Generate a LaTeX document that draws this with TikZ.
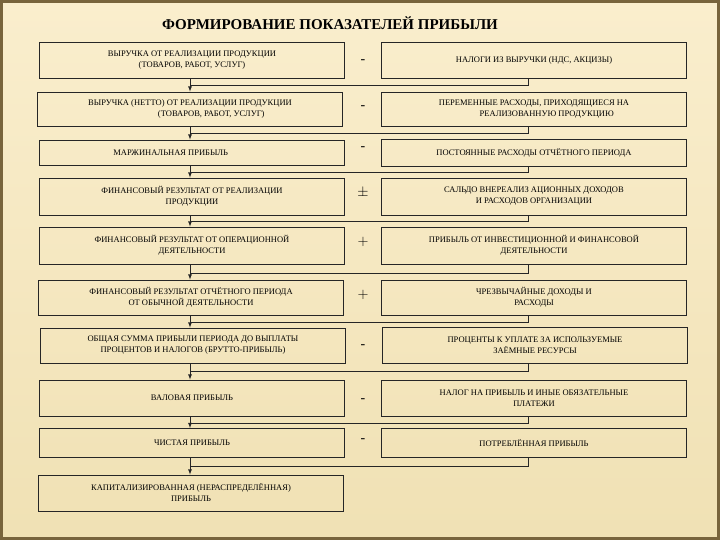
\documentclass[tikz,border=0pt]{standalone}
\usepackage{fontspec}
\setmainfont{Liberation Serif}
\definecolor{bgtop}{RGB}{250,238,205}
\definecolor{bgbot}{RGB}{240,225,180}
\definecolor{frame}{RGB}{120,100,60}
\begin{document}
\begin{tikzpicture}[x=1pt,y=-1pt,
  bx/.style={draw=black!85,line width=0.8pt,minimum width=305pt,inner sep=1pt,align=center,font=\fontsize{8.5}{11}\selectfont},
  sg/.style={font=\fontsize{14}{14}\selectfont},
  jn/.style={draw=black!85,line width=0.8pt},
  ar/.style={jn,-latex}]
\shade[top color=bgtop,bottom color=bgbot] (0,0) rectangle (720,540);
\draw[line width=2.5pt,color=frame] (1.5,1.5) rectangle (718.5,538.5);
\useasboundingbox (0,0) rectangle (720,540);
\node[font=\bfseries\fontsize{15}{15}\selectfont] (t) at (330,23) {ФОРМИРОВАНИЕ ПОКАЗАТЕЛЕЙ ПРИБЫЛИ};
% left boxes
\node[bx,minimum height=36pt] (l1) at (192,60) {ВЫРУЧКА ОТ РЕАЛИЗАЦИИ ПРОДУКЦИИ\\(ТОВАРОВ, РАБОТ, УСЛУГ)};
\node[bx,minimum height=34pt] (l2) at (190,109) {ВЫРУЧКА (НЕТТО) ОТ РЕАЛИЗАЦИИ ПРОДУКЦИИ\\\hspace*{5em}(ТОВАРОВ, РАБОТ, УСЛУГ)};
\node[bx,minimum height=25pt] (l3) at (192,152.5) {\hspace*{-5em}МАРЖИНАЛЬНАЯ ПРИБЫЛЬ};
\node[bx,minimum height=37pt] (l4) at (192,196.5) {ФИНАНСОВЫЙ РЕЗУЛЬТАТ ОТ РЕАЛИЗАЦИИ\\ПРОДУКЦИИ};
\node[bx,minimum height=37pt] (l5) at (192,245.5) {ФИНАНСОВЫЙ РЕЗУЛЬТАТ ОТ ОПЕРАЦИОННОЙ\\ДЕЯТЕЛЬНОСТИ};
\node[bx,minimum height=35pt] (l6) at (191,297.5) {ФИНАНСОВЫЙ РЕЗУЛЬТАТ ОТЧЁТНОГО ПЕРИОДА\\ОТ ОБЫЧНОЙ ДЕЯТЕЛЬНОСТИ};
\node[bx,minimum height=35pt] (l7) at (193,345.5) {ОБЩАЯ СУММА ПРИБЫЛИ ПЕРИОДА ДО ВЫПЛАТЫ\\ПРОЦЕНТОВ И НАЛОГОВ (БРУТТО-ПРИБЫЛЬ)};
\node[bx,minimum height=36pt] (l8) at (192,398) {ВАЛОВАЯ ПРИБЫЛЬ};
\node[bx,minimum height=29pt] (l9) at (192,443) {ЧИСТАЯ ПРИБЫЛЬ};
\node[bx,minimum height=36pt] (l10) at (191,493) {КАПИТАЛИЗИРОВАННАЯ (НЕРАСПРЕДЕЛЁННАЯ)\\ПРИБЫЛЬ};
% right boxes
\node[bx,minimum height=36pt] (r1) at (534,60) {НАЛОГИ ИЗ ВЫРУЧКИ (НДС, АКЦИЗЫ)};
\node[bx,minimum height=34pt] (r2) at (534,109) {ПЕРЕМЕННЫЕ РАСХОДЫ, ПРИХОДЯЩИЕСЯ НА\\\hspace*{3em}РЕАЛИЗОВАННУЮ ПРОДУКЦИЮ};
\node[bx,minimum height=27pt] (r3) at (534,153) {ПОСТОЯННЫЕ РАСХОДЫ ОТЧЁТНОГО ПЕРИОДА};
\node[bx,minimum height=37pt] (r4) at (534,196.5) {САЛЬДО ВНЕРЕАЛИЗ АЦИОННЫХ ДОХОДОВ\\И РАСХОДОВ ОРГАНИЗАЦИИ};
\node[bx,minimum height=37pt] (r5) at (534,245.5) {ПРИБЫЛЬ ОТ ИНВЕСТИЦИОННОЙ И ФИНАНСОВОЙ\\ДЕЯТЕЛЬНОСТИ};
\node[bx,minimum height=35pt] (r6) at (534,297.5) {ЧРЕЗВЫЧАЙНЫЕ ДОХОДЫ И\\РАСХОДЫ};
\node[bx,minimum height=36pt] (r7) at (535,345.5) {ПРОЦЕНТЫ К УПЛАТЕ ЗА ИСПОЛЬЗУЕМЫЕ\\ЗАЁМНЫЕ РЕСУРСЫ};
\node[bx,minimum height=36pt] (r8) at (534,398) {НАЛОГ НА ПРИБЫЛЬ И ИНЫЕ ОБЯЗАТЕЛЬНЫЕ\\ПЛАТЕЖИ};
\node[bx,minimum height=29pt] (r9) at (534,443) {ПОТРЕБЛЁННАЯ ПРИБЫЛЬ};
% signs
\node[sg] (s1) at (363,62) {-};
\node[sg] (s2) at (363,108) {-};
\node[sg] (s3) at (363,149) {-};
\node[sg] (s4) at (363,193) {$\pm$};
\node[sg] (s5) at (363,242) {$+$};
\node[sg] (s6) at (363,295) {$+$};
\node[sg] (s7) at (363,347) {-};
\node[sg] (s8) at (363,401) {-};
\node[sg] (s9) at (363,441) {-};
% connectors
\foreach \i/\j/\y in {1/2/85,2/3/133,3/4/172,4/5/221,5/6/273,6/7/322,7/8/371,8/9/423,9/10/466}{
  \draw[jn] (r\i.south -| 528,0) |- (190,\y);
  \draw[ar] (l\i.south -| 190,0) -- (l\j.north -| 190,0);
}
\end{tikzpicture}
\end{document}
